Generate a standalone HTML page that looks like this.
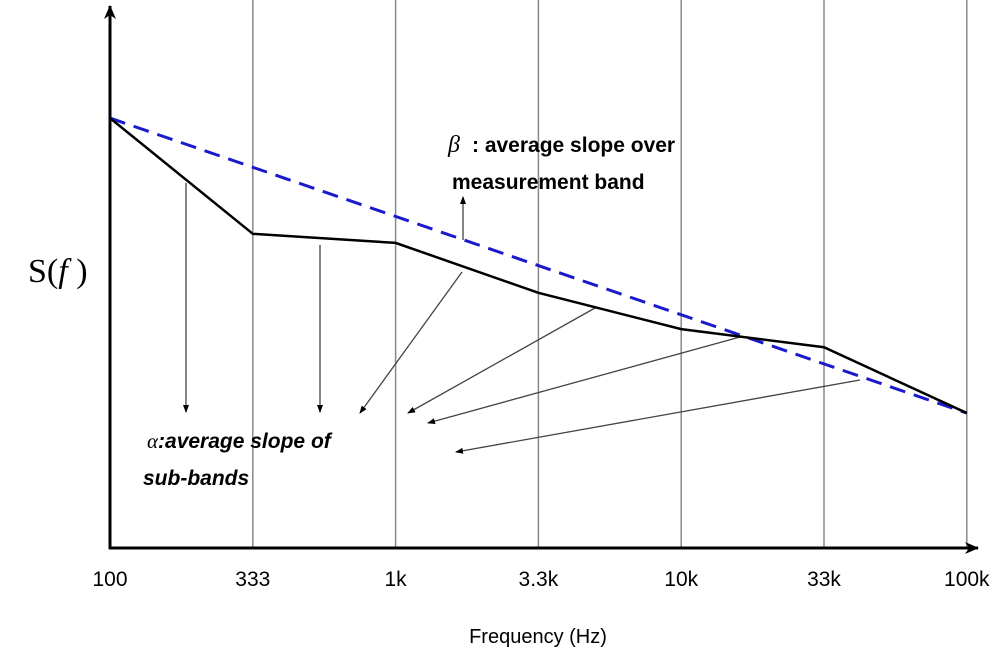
<!DOCTYPE html>
<html><head><meta charset="utf-8"><style>
body{margin:0;background:#fff}
svg{display:block}
text{font-family:"Liberation Sans",sans-serif}
</style></head><body>
<svg width="1000" height="662" viewBox="0 0 1000 662">
<defs>
<marker id="ah" markerWidth="8" markerHeight="8" refX="7" refY="4" orient="auto" markerUnits="userSpaceOnUse"><path d="M0,1 L8,4 L0,7 Z" fill="#000"/></marker>
<marker id="big" markerWidth="14" markerHeight="14" refX="13" refY="7" orient="auto" markerUnits="userSpaceOnUse"><path d="M0,1 L14,7 L0,13 L4,7 Z" fill="#000"/></marker>
</defs>
<g id="grid"></g>
<line x1="110" y1="549" x2="110" y2="6" stroke="#000" stroke-width="3" marker-end="url(#big)"/>
<line x1="109" y1="548" x2="978" y2="548" stroke="#000" stroke-width="3" marker-end="url(#big)"/>
<g id="arrows"></g>
<g id="series"></g>
<g id="ticks"></g>
<text x="28" y="282" font-size="34" style="font-family:'Liberation Serif',serif">S(<tspan font-style="italic">f</tspan> )</text>
<text x="448" y="152" font-size="24" font-style="italic" style="font-family:'Liberation Serif',serif">β</text>
<text x="472" y="152" font-size="21" font-weight="bold">: average slope over</text>
<text x="452" y="189" font-size="21" font-weight="bold">measurement band</text>
<text x="147" y="448" font-size="21" font-weight="bold" font-style="italic"><tspan style="font-family:'Liberation Serif',serif" font-weight="normal">α</tspan>:average slope of</text>
<text x="143" y="485" font-size="21" font-weight="bold" font-style="italic">sub-bands</text>
<text x="538" y="643" font-size="20" text-anchor="middle">Frequency (Hz)</text>
</svg>
<script>
const categories=["100","333","1k","3.3k","10k","33k","100k"];
const measured=[100,49,45,23,7,-1,-30];
const avgStart=100, avgEnd=-30;
const NS="http://www.w3.org/2000/svg";
const xS=i=>110+i*142.8;
const yS=v=>345-v*2.269;
function mk(t,a,p){const e=document.createElementNS(NS,t);for(const k in a)e.setAttribute(k,a[k]);document.getElementById(p).appendChild(e);return e;}
categories.forEach((c,i)=>{
 if(i>0){const g=mk('line',{x1:xS(i),y1:0,x2:xS(i),y2:548,stroke:'#888','stroke-width':1.5},'grid');
 
 }
 const t=mk('text',{x:xS(i),y:586,'font-size':21,'text-anchor':'middle'},'ticks');t.textContent=c;
 
 
});
const n=categories.length-1;
const d=mk('line',{x1:xS(0),y1:yS(avgStart),x2:xS(n),y2:yS(avgEnd),stroke:'#1a1acc','stroke-width':3,'stroke-dasharray':'16,9'},'series');


const p=mk('polyline',{points:measured.map((v,i)=>xS(i)+','+yS(v)).join(' '),fill:'none',stroke:'#000','stroke-width':2.5},'series');


const arrows=[[186,183,186,412],[320,245,320,412],[462,272,360,413],[595,308,408,413],[740,337,428,423],[860,380,456,452],[463,240,463,197]];
arrows.forEach((a,i)=>{const l=mk('line',{x1:a[0],y1:a[1],x2:a[2],y2:a[3],stroke:'#444','stroke-width':1.3,'marker-end':'url(#ah)'},'arrows');
 
 });
</script>
</body></html>
